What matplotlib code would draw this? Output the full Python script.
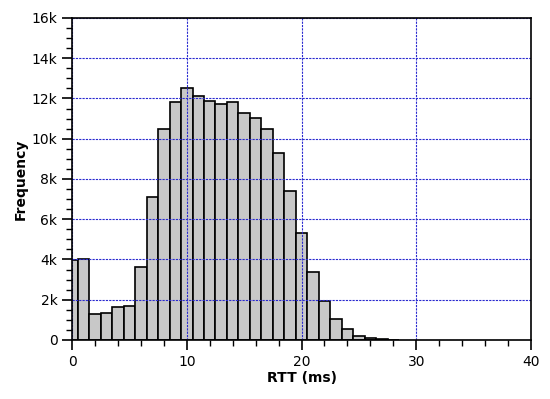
import numpy as np
import matplotlib
matplotlib.use("Agg")
import matplotlib.pyplot as plt
from matplotlib.ticker import MultipleLocator, FuncFormatter

# RTT histogram, 1 ms bins centred on whole milliseconds
rtt_ms = np.arange(0, 29)
freq = [3950, 4000, 1300, 1350, 1650, 1700, 3640, 7100, 10500, 11800,
        12500, 12100, 11850, 11700, 11800, 11300, 11050, 10480, 9300, 7400,
        5330, 3370, 1950, 1030, 530, 180, 90, 40, 15]

fig = plt.figure(figsize=(5.5, 3.99), dpi=100)
ax = fig.add_axes([0.131, 0.148, 0.8345, 0.807])

ax.bar(rtt_ms, freq, width=1.0, align='center', color='#c8c8c8',
       edgecolor='black', linewidth=1.2, zorder=1)

ax.set_xlim(0, 40)
ax.set_ylim(0, 16000)

ax.xaxis.set_major_locator(MultipleLocator(10))
ax.xaxis.set_minor_locator(MultipleLocator(2))
ax.yaxis.set_major_locator(MultipleLocator(2000))
ax.yaxis.set_minor_locator(MultipleLocator(500))
ax.yaxis.set_major_formatter(FuncFormatter(lambda v, p: '0' if v == 0 else '%dk' % (v / 1000)))

ax.tick_params(which='major', direction='out', length=7, width=1.2, labelsize=10)
ax.tick_params(which='minor', direction='out', length=4, width=1.0)
ax.tick_params(top=False, right=False, which='both')

for s in ax.spines.values():
    s.set_linewidth(1.2)
    s.set_zorder(5)

ax.grid(True, which='major', color='#2a2ad0', linestyle=(0, (2, 1)), linewidth=0.8, zorder=3)
ax.set_axisbelow(False)

ax.set_xlabel('RTT (ms)', fontsize=10, fontweight='bold', labelpad=2)
ax.set_ylabel('Frequency', fontsize=10, fontweight='bold', labelpad=3)

plt.savefig("out.png", dpi=100)
